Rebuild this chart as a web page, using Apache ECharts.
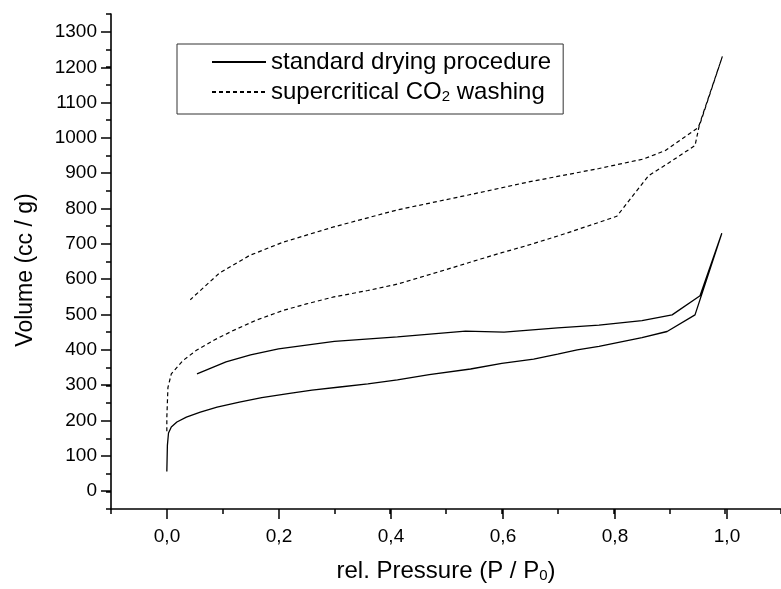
<!DOCTYPE html>
<html><head><meta charset="utf-8">
<script src="https://cdn.jsdelivr.net/npm/echarts@6/dist/echarts.min.js"></script>
<style>html,body{margin:0;padding:0;background:#fff}#c{width:781px;height:589px}</style>
</head><body><div id="c"></div>
<script>
// Series names
const seriesNames = ['standard drying procedure', 'supercritical CO2 washing'];

// standard drying procedure: adsorption branch then desorption branch
const stdAdsX = [0, 0.001, 0.003, 0.008, 0.018, 0.035, 0.06, 0.09, 0.13, 0.17, 0.22, 0.26, 0.31, 0.36, 0.413, 0.47, 0.544, 0.6, 0.657, 0.7, 0.735, 0.774, 0.851, 0.896, 0.946, 0.994];
const stdAdsY = [56, 130, 165, 182, 196, 210, 224, 238, 252, 265, 277, 286, 295, 304, 315, 330, 346, 362, 374, 388, 400, 410, 435, 452, 499, 730];
const stdDesX = [0.994, 0.955, 0.905, 0.851, 0.774, 0.7, 0.604, 0.535, 0.413, 0.3, 0.2, 0.15, 0.106, 0.054];
const stdDesY = [730, 553, 499, 483, 470, 462, 450, 453, 437, 424, 403, 386, 366, 332];

// supercritical CO2 washing
const scAdsX = [0, 0, 0.002, 0.008, 0.029, 0.053, 0.085, 0.118, 0.16, 0.207, 0.25, 0.297, 0.36, 0.413, 0.5, 0.562, 0.6, 0.645, 0.7, 0.75, 0.806, 0.851, 0.863, 0.9, 0.946, 0.953, 0.995];
const scAdsY = [170, 209, 294, 332, 370, 399, 428, 454, 484, 511, 530, 549, 568, 586, 627, 657, 675, 695, 722, 748, 778, 869, 893, 930, 978, 1030, 1230];
const scDesX = [0.995, 0.952, 0.893, 0.854, 0.774, 0.645, 0.54, 0.413, 0.297, 0.207, 0.148, 0.094, 0.042];
const scDesY = [1230, 1029, 964, 940, 913, 874, 838, 796, 747, 704, 667, 617, 542];

function zip(xs, ys) { return xs.map((x, i) => [x, ys[i]]); }

const FONT = '"Liberation Sans", Arial, sans-serif';
const chart = echarts.init(document.getElementById('c'), null, { renderer: 'canvas' });

const option = {
  animation: false,
  backgroundColor: '#fff',
  grid: [
    { left: 111, right: -2, top: 14, bottom: 80 },
    { left: 167, right: 54, top: 32, bottom: 98 }
  ],
  xAxis: [
    {
      gridIndex: 0, type: 'value', min: -0.1, max: 1.1, interval: 0.1,
      axisLine: { onZero: false, lineStyle: { color: '#000', width: 1.6 } },
      axisTick: { length: 5, lineStyle: { color: '#000', width: 1.5 } },
      axisLabel: { show: false }, splitLine: { show: false },
      name: 'rel. Pressure (P / P{sub|0})', nameLocation: 'middle', nameGap: 50,
      nameTextStyle: { fontFamily: FONT, fontSize: 24, color: '#000',
        rich: { sub: { fontFamily: FONT, fontSize: 15, color: '#000', verticalAlign: 'bottom', lineHeight: 15 } } }
    },
    {
      gridIndex: 1, type: 'value', min: 0, max: 1, interval: 0.2, offset: 18,
      axisLine: { show: false, onZero: false },
      axisTick: { length: 10, lineStyle: { color: '#000', width: 1.5 } },
      axisLabel: { margin: 18, fontFamily: FONT, fontSize: 19, color: '#000',
        formatter: v => v.toFixed(1).replace('.', ',') },
      splitLine: { show: false }
    }
  ],
  yAxis: [
    {
      gridIndex: 0, type: 'value', min: -50, max: 1350, interval: 50,
      axisLine: { onZero: false, lineStyle: { color: '#000', width: 1.6 } },
      axisTick: { length: 5, lineStyle: { color: '#000', width: 1.5 } },
      axisLabel: { show: false }, splitLine: { show: false },
      name: 'Volume (cc / g)', nameLocation: 'middle', nameGap: 74,
      nameTextStyle: { fontFamily: FONT, fontSize: 23, color: '#000', padding: [0, 17, 0, 0] }
    },
    {
      gridIndex: 1, type: 'value', min: 0, max: 1300, interval: 100, offset: 56,
      axisLine: { show: false, onZero: false },
      axisTick: { length: 10, lineStyle: { color: '#000', width: 1.5 } },
      axisLabel: { margin: 14, fontFamily: FONT, fontSize: 19, color: '#000',
        formatter: v => String(v) },
      splitLine: { show: false }
    }
  ],
  legend: {
    left: 177, top: 44, orient: 'vertical',
    itemWidth: 54, itemHeight: 14, itemGap: 6,
    padding: [6, 12, 10, 34],
    borderColor: '#333', borderWidth: 1,
    itemStyle: { color: 'rgba(0,0,0,0)', borderWidth: 0, opacity: 0 },
    textStyle: { fontFamily: FONT, fontSize: 24, color: '#000', lineHeight: 24,
      rich: { sub: { fontFamily: FONT, fontSize: 15, color: '#000', verticalAlign: 'bottom', lineHeight: 15 } } },
    formatter: n => n === seriesNames[1] ? 'supercritical CO{sub|2} washing' : n,
    data: seriesNames
  },
  series: [
    {
      name: seriesNames[0], type: 'line', xAxisIndex: 0, yAxisIndex: 0,
      data: zip(stdAdsX, stdAdsY).concat(zip(stdDesX, stdDesY)),
      symbol: 'none', smooth: false,
      lineStyle: { color: '#000', width: 1.3, type: 'solid' },
      itemStyle: { color: '#000' }
    },
    {
      name: seriesNames[1], type: 'line', xAxisIndex: 0, yAxisIndex: 0,
      data: zip(scAdsX, scAdsY).concat(zip(scDesX, scDesY)),
      symbol: 'none', smooth: false,
      lineStyle: { color: '#000', width: 1.2, type: [4, 3] },
      itemStyle: { color: '#000' }
    }
  ]
};
chart.setOption(option);
</script>
</body></html>
